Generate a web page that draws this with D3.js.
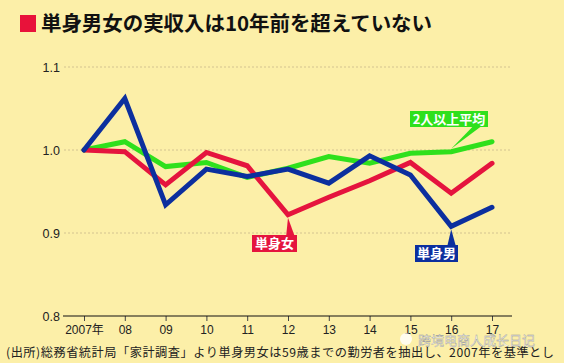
<!DOCTYPE html>
<html><head><meta charset="utf-8">
<script src="https://cdn.jsdelivr.net/npm/d3@7"></script>
<style>
html,body{margin:0;padding:0;background:#fcefa8;}
svg{display:block;}
text{font-family:"Noto Sans CJK JP","Noto Sans",sans-serif;}
</style></head><body>
<svg id="c" width="564" height="363"></svg>
<script>
const years = ["2007年","08","09","10","11","12","13","14","15","16","17"];
const yTicks = [0.8, 0.9, 1.0, 1.1];
const avg2 = [1.000,1.010,0.980,0.985,0.967,0.978,0.992,0.984,0.996,0.998,1.010];
const singleF = [1.000,0.998,0.958,0.997,0.981,0.922,0.943,0.963,0.985,0.948,0.984];
const singleM = [1.000,1.062,0.934,0.977,0.968,0.977,0.960,0.993,0.970,0.908,0.931];
const seriesNames = ["2人以上平均","単身女","単身男"];
const title = "単身男女の実収入は10年前を超えていない";
const note = "(出所)総務省統計局「家計調査」より単身男女は59歳までの勤労者を抽出し、2007年を基準とし";

const svg = d3.select("#c");
svg.append("rect").attr("width",564).attr("height",363).attr("fill","#fcefa8");

const x = d3.scalePoint().domain(years).range([84,492]);
const y = d3.scaleLinear().domain([0.8,1.1]).range([316,67]);

// title
svg.append("rect").attr("x",20).attr("y",15).attr("width",16).attr("height",17).attr("fill","#e8123a");
svg.append("text").attr("x",41).attr("y",31).attr("font-size",20.5).attr("font-weight","bold")
  .attr("fill","#111").attr("textLength",391).text(title);

// gridlines
const g = svg.append("g");
g.selectAll("line.grid").data(yTicks.filter(d=>d>0.8)).join("line")
  .attr("x1",64).attr("x2",512).attr("y1",d=>y(d)).attr("y2",d=>y(d))
  .attr("stroke","#c9b98a").attr("stroke-width",0.8).attr("stroke-dasharray","2,2");

// y labels
g.selectAll("text.yl").data(yTicks).join("text")
  .attr("x",60).attr("y",d=>y(d)+4.5).attr("text-anchor","end")
  .attr("font-size",12.5).attr("fill","#222")
  .style("font-family","Liberation Sans, Arial, sans-serif")
  .text(d=>d.toFixed(1));

// x axis
const xa = svg.append("g").attr("transform","translate(0,316)")
  .call(d3.axisBottom(x).tickSize(5).tickSizeOuter(0));
xa.select(".domain").remove();
xa.append("line").attr("x1",63).attr("x2",512).attr("stroke","#111").attr("stroke-width",1.2);
xa.selectAll(".tick line").attr("stroke","#444");
xa.selectAll(".tick text").attr("fill","#222").attr("font-size",12).attr("dy","0.85em")
  .style("font-family","Liberation Sans, 'Noto Sans CJK JP', sans-serif");

// lines
const line = d3.line().x((d,i)=>x(years[i])).y(d=>y(d));
const data = [
  {vals:avg2, color:"#2fe01c"},
  {vals:singleF, color:"#e5143e"},
  {vals:singleM, color:"#0c2f9e"}
];
svg.selectAll("path.s").data(data).join("path")
  .attr("d",d=>line(d.vals)).attr("fill","none").attr("stroke",d=>d.color)
  .attr("stroke-width",5).attr("stroke-linejoin","miter").attr("stroke-miterlimit",10)
  .attr("stroke-linecap","round");

// callout labels
function callout(name, color, bx, by, bw, bh, tipIdx, vals, up) {
  const px = x(years[tipIdx]), py = y(vals[tipIdx]);
  const cx = bx + bw*0.85;
  const baseY = up ? by : by+bh;
  svg.append("path").attr("d",`M${cx-4},${baseY} L${px},${py + (up?3:-3)} L${cx+4},${baseY} Z`).attr("fill",color);
  svg.append("rect").attr("x",bx).attr("y",by).attr("width",bw).attr("height",bh).attr("fill",color);
  svg.append("text").attr("x",bx+bw/2).attr("y",by+bh/2+4.5).attr("text-anchor","middle")
    .attr("font-size",13).attr("fill","#fff").attr("font-weight","bold").text(name);
}
callout(seriesNames[0],"#2fe01c",410,111,78,16,9,avg2,false);
callout(seriesNames[1],"#e5143e",252,235,45,17,5,singleF,true);
callout(seriesNames[2],"#0c2f9e",415,245,43,17,9,singleM,true);

// footnote
svg.append("text").attr("x",6).attr("y",357).attr("font-size",12.2).attr("fill","#222")
  .attr("textLength",548).text(note);

// watermark
svg.append("circle").attr("cx",406).attr("cy",339).attr("r",6).attr("fill","#fff").attr("fill-opacity",0.8);
svg.append("text").attr("x",418).attr("y",345).attr("font-size",13).attr("fill","#ffffff")
  .attr("fill-opacity",0.85).attr("stroke","#999").attr("stroke-width",0.4).text("跨境电商人成长日记");
</script></body></html>
